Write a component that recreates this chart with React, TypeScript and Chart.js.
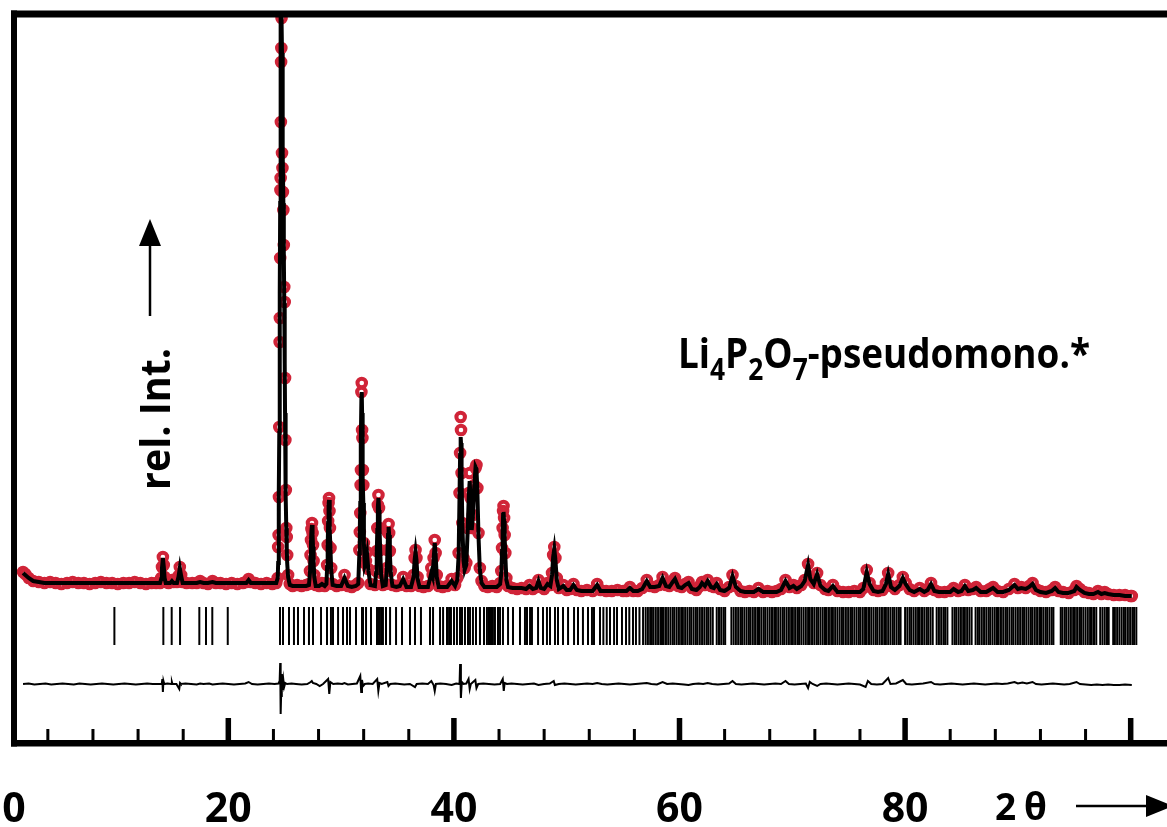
import React, { useEffect, useRef } from 'react';
import { Chart, registerables } from 'chart.js';

Chart.register(...registerables);

// ---------- data ----------
// 2θ positions of the observed / calculated profile
const twoTheta = [
  1.8, 2.0, 2.3, 2.7, 3.2, 3.7, 4.2, 4.7, 5.2, 5.7, 6.2, 6.7, 7.2, 7.7, 8.2, 8.7, 9.2, 9.7, 10.2, 10.7, 11.2, 11.7, 12.2, 12.7, 13.2, 13.6,
  13.95, 14.05, 14.12, 14.2, 14.28, 14.35, 14.45, 14.7, 14.85, 15.0, 15.15, 15.45, 15.58, 15.7, 15.82, 15.95,
  16.3, 16.8, 17.2, 17.5, 17.8, 18.2, 18.6, 18.9, 19.3, 19.8, 20.3, 20.8, 21.3, 21.6, 21.8, 22.0, 22.4, 22.9, 23.4, 23.9, 24.25,
  24.38, 24.42, 24.46, 24.49, 24.52, 24.55, 24.57, 24.6, 24.62, 24.64, 24.66, 24.68, 24.7, 24.72, 24.76, 24.8, 24.84, 24.88, 24.92, 24.96, 25.0, 25.03, 25.06, 25.1, 25.14, 25.18, 25.22, 25.3, 25.45,
  25.7, 26.1, 26.5, 26.9,
  27.15, 27.24, 27.29, 27.33, 27.37, 27.42, 27.47, 27.51, 27.56, 27.62, 27.75,
  28.05, 28.3, 28.55,
  28.7, 28.76, 28.81, 28.85, 28.89, 28.93, 28.97, 29.01, 29.06, 29.12, 29.25,
  29.6, 30.0, 30.3, 30.6, 30.95, 31.3,
  31.52, 31.62, 31.66, 31.7, 31.73, 31.76, 31.8, 31.83, 31.86, 31.89, 31.93, 31.97, 32.02, 32.1, 32.2, 32.3, 32.42, 32.6,
  33.0, 33.1, 33.16, 33.21, 33.26, 33.31, 33.36, 33.41, 33.47, 33.55, 33.7,
  33.95, 34.05, 34.11, 34.16, 34.21, 34.26, 34.32, 34.4, 34.55,
  34.9, 35.2, 35.5, 35.8, 36.2,
  36.42, 36.52, 36.6, 36.68, 36.78, 36.95,
  37.3, 37.7, 38.0, 38.12, 38.2, 38.3, 38.38, 38.48, 38.65, 39.0, 39.4, 39.8, 40.1, 40.3,
  40.42, 40.5, 40.55, 40.6, 40.63, 40.68, 40.75, 40.85, 40.95, 41.1, 41.22, 41.32, 41.4, 41.48, 41.58, 41.68, 41.8, 41.92, 42.0, 42.08, 42.18, 42.3, 42.45, 42.7,
  43.0, 43.4, 43.8, 44.1,
  44.2, 44.27, 44.32, 44.36, 44.4, 44.45, 44.5, 44.56, 44.65, 44.8,
  45.2, 45.6, 46.0, 46.4, 46.7, 47.0, 47.3, 47.5, 47.7, 48.0, 48.3, 48.55,
  48.7, 48.8, 48.9, 49.0, 49.12, 49.3,
  49.7, 50.0, 50.3, 50.6, 50.9, 51.3, 51.8, 52.3, 52.7, 53.0, 53.5, 54.0, 54.5, 55.0, 55.3, 55.6, 55.9, 56.3, 56.7,
  57.1, 57.4, 57.8, 58.2, 58.5, 58.8, 59.1, 59.4, 59.6, 59.9, 60.2, 60.5, 60.8, 61.1, 61.5, 61.8, 62.0, 62.25, 62.5, 62.8, 63.05, 63.3, 63.6, 64.0, 64.4, 64.7, 65.0,
  65.4, 65.8, 66.2, 66.6, 67.0, 67.4, 67.8, 68.2, 68.6, 69.0, 69.4, 69.75, 70.1, 70.4, 70.8, 71.1, 71.4, 71.6, 71.9, 72.2, 72.5, 72.9, 73.2, 73.6,
  74.0, 74.5, 75.0, 75.5, 76.0, 76.3, 76.6, 76.85, 77.2, 77.6, 78.0, 78.3, 78.5, 78.75, 79.1, 79.5, 79.8, 80.05, 80.4, 80.8, 81.3, 81.7,
  82.0, 82.3, 82.6, 83.0, 83.5, 84.0, 84.3, 84.7, 85.0, 85.3, 85.6, 86.0, 86.3, 86.7, 87.2, 87.5, 87.8, 88.2, 88.7, 89.2, 89.7,
  90.0, 90.3, 90.7, 91.0, 91.3, 91.6, 92.0, 92.5, 93.0, 93.3, 93.6, 94.0, 94.5, 95.0, 95.2, 95.5, 95.9, 96.3, 96.7, 97.1, 97.4, 97.7, 98.0, 98.5, 99.0, 99.5, 100.0, 100.1,
];

// observed intensities (relative units)
const obsI = [
  171, 169, 165, 162, 161, 160, 161, 160, 159, 160, 161, 160, 160, 159, 160, 161, 160, 160, 159, 160, 160, 161, 160, 159, 160, 160,
  160, 165, 176, 186, 178, 166, 161, 160, 161, 163, 161, 161, 167, 176, 168, 161,
  160, 160, 160, 162, 160, 159, 162, 160, 160, 159, 160, 159, 160, 161, 164, 161, 160, 159, 160, 159, 160,
  165, 196, 208, 246, 316, 401, 425, 485, 553, 565, 621, 681, 695, 725, 590, 575, 551, 533, 498, 456, 441, 365, 303, 253, 215, 206, 188, 168, 159,
  157, 158, 157, 158,
  159, 172, 188, 203, 214, 220, 210, 198, 182, 168, 158,
  157, 160, 157,
  160, 178, 198, 222, 240, 245, 232, 215, 195, 175, 159,
  157, 158, 168, 157, 156, 158,
  160, 193, 211, 230, 258, 273, 351, 360, 313, 305, 273, 258, 200, 180, 182, 191, 174, 159,
  158, 172, 192, 215, 238, 248, 235, 215, 193, 170, 158,
  159, 175, 193, 210, 219, 210, 192, 172, 158,
  157, 158, 166, 157, 157,
  168, 185, 193, 185, 166, 157,
  156, 157, 175, 168, 185, 203, 190, 168, 157, 156, 157, 164, 158, 165,
  190, 250, 290, 326, 313, 270, 220, 185, 175, 180, 215, 250, 270, 245, 215, 228, 258, 275, 278, 255, 210, 175, 162, 157,
  156, 157, 156, 160,
  172, 195, 215, 232, 237, 225, 208, 190, 165, 157,
  155, 154, 155, 154, 158, 154, 156, 163, 156, 154, 160, 158,
  170, 188, 196, 185, 165, 155,
  158, 153, 154, 159, 153, 152, 153, 152, 159, 153, 152, 152, 153, 152, 152, 156, 152, 152, 155,
  163, 157, 156, 158, 166, 158, 157, 162, 165, 157, 156, 159, 161, 155, 153, 157, 161, 158, 163, 157, 156, 160, 154, 152, 156, 168, 157,
  152, 151, 152, 151, 155, 151, 152, 151, 152, 154, 163, 156, 158, 155, 158, 163, 179, 165, 160, 170, 158, 154, 153, 158,
  152, 151, 151, 152, 151, 155, 173, 160, 153, 152, 153, 160, 170, 157, 154, 158, 166, 160, 154, 152, 155, 152,
  154, 160, 153, 151, 151, 152, 155, 152, 153, 158, 153, 154, 156, 152, 152, 154, 156, 152, 151, 154, 159,
  155, 156, 155, 157, 160, 154, 152, 151, 153, 156, 152, 151, 150, 153, 157, 154, 151, 150, 149, 152, 149, 151, 149, 148, 148, 148, 147, 147,
];

// calculated profile
const calcI = [
  170, 168, 165, 162, 161, 160, 160, 160, 160, 160, 160, 160, 160, 160, 160, 160, 160, 160, 160, 160, 160, 160, 160, 160, 160, 160,
  160, 164, 175, 185, 176, 165, 160, 160, 160, 162, 160, 160, 166, 175, 167, 160,
  160, 160, 160, 161, 160, 160, 161, 160, 160, 160, 160, 160, 160, 160, 163, 160, 160, 160, 160, 160, 160,
  165, 180, 210, 250, 310, 390, 450, 540, 610, 680, 730, 750, 745, 730, 690, 640, 590, 540, 490, 440, 380, 330, 290, 250, 215, 195, 180, 166, 158,
  157, 157, 157, 157,
  158, 170, 186, 201, 212, 218, 208, 196, 180, 166, 157,
  157, 159, 157,
  159, 176, 196, 220, 238, 243, 230, 213, 193, 173, 158,
  157, 157, 165, 157, 156, 157,
  159, 190, 215, 240, 270, 300, 345, 351, 330, 300, 265, 240, 200, 178, 182, 189, 172, 158,
  157, 170, 190, 213, 236, 245, 233, 213, 191, 168, 157,
  158, 173, 191, 208, 216, 208, 190, 170, 157,
  156, 157, 164, 156, 156,
  166, 183, 191, 183, 164, 156,
  156, 156, 170, 166, 183, 200, 188, 166, 156, 156, 156, 162, 157, 163,
  188, 248, 288, 306, 300, 265, 218, 183, 173, 178, 212, 247, 262, 243, 213, 226, 256, 276, 274, 252, 207, 173, 160, 156,
  156, 156, 156, 159,
  170, 192, 212, 228, 231, 222, 205, 187, 163, 156,
  155, 155, 155, 154, 157, 154, 155, 162, 155, 154, 159, 157,
  168, 186, 194, 183, 163, 154,
  157, 153, 153, 158, 153, 152, 152, 152, 158, 152, 152, 152, 152, 152, 152, 155, 152, 152, 154,
  162, 156, 156, 157, 165, 157, 156, 161, 164, 156, 155, 158, 160, 154, 153, 156, 160, 157, 162, 156, 155, 159, 153, 152, 155, 167, 156,
  152, 151, 151, 151, 154, 151, 151, 151, 151, 153, 162, 155, 157, 154, 157, 162, 178, 164, 159, 169, 157, 153, 152, 157,
  151, 151, 151, 151, 151, 154, 171, 159, 152, 151, 152, 159, 169, 156, 153, 157, 165, 159, 153, 151, 154, 151,
  153, 159, 152, 151, 151, 151, 154, 151, 152, 157, 152, 153, 155, 151, 151, 153, 155, 151, 151, 153, 158,
  154, 155, 154, 156, 159, 153, 151, 150, 152, 155, 151, 150, 150, 152, 156, 153, 150, 149, 149, 151, 149, 150, 149, 148, 148, 147, 147, 147,
];

// difference curve (obs - calc)
const diffTheta = [
  1.8, 2.3, 2.8, 3.3, 3.8, 4.3, 4.8, 5.3, 5.8, 6.3, 6.8, 7.3, 7.8, 8.3, 8.8, 9.3, 9.8, 10.3, 10.8, 11.3, 11.8, 12.3, 12.8, 13.3, 13.8,
  14.1, 14.15, 14.2, 14.25, 14.32, 14.6, 14.95, 15.0, 15.05, 15.4, 15.65, 15.72, 15.8,
  16.2, 16.7, 17.2, 17.5, 17.8, 18.3, 18.6, 19.0, 19.5, 20.0, 20.5, 21.0, 21.5, 21.8, 22.1, 22.6, 23.1, 23.6, 24.1, 24.45,
  24.55, 24.6, 24.64, 24.68, 24.74, 24.8, 24.88, 24.95, 25.05, 25.2,
  25.6, 26.0, 26.5, 27.0, 27.3, 27.4, 27.5, 27.8, 28.1, 28.4, 28.85, 28.95, 29.05, 29.3, 29.7, 30.1, 30.3, 30.6, 31.0, 31.4,
  31.7, 31.78, 31.85, 31.95, 32.1, 32.4, 32.8, 33.2, 33.3, 33.4, 33.6, 34.1, 34.2, 34.35, 34.8, 35.2, 35.6, 36.1, 36.55, 36.7,
  37.2, 37.7, 38.0, 38.2, 38.3, 38.4, 38.8, 39.3, 39.8, 40.2, 40.5, 40.55, 40.62, 40.7, 40.85, 41.1, 41.3, 41.4, 41.5, 41.9, 42.0, 42.15, 42.6, 43.1, 43.6, 44.1, 44.33, 44.42, 44.5, 44.7,
  45.1, 45.6, 46.1, 46.6, 47.1, 47.5, 48.0, 48.5, 48.85, 48.95, 49.3, 49.8, 50.3, 50.8, 51.3, 51.8, 52.3, 52.7, 53.1, 53.6, 54.1, 54.6, 55.1, 55.6, 56.1, 56.6,
  57.1, 57.5, 58.0, 58.5, 58.9, 59.4, 59.9, 60.4, 60.8, 61.2, 61.7, 62.1, 62.5, 62.9, 63.4, 63.9, 64.4, 64.7, 65.0, 65.5, 66.0, 66.5, 67.0, 67.5, 68.0, 68.5, 69.0, 69.4, 69.7,
  70.2, 70.7, 71.2, 71.4, 71.55, 71.8, 72.2, 72.5, 73.0, 73.5, 74.0, 74.5, 75.0, 75.5, 76.0, 76.5, 76.7, 77.0, 77.5, 78.0, 78.5, 78.7, 79.2, 79.8, 80.1, 80.6, 81.1, 81.6,
  82.3, 82.6, 83.1, 83.6, 84.1, 84.6, 85.1, 85.6, 86.1, 86.6, 87.1, 87.6, 88.1, 88.6, 89.1, 89.7,
  90.0, 90.4, 90.8, 91.3, 91.6, 92.1, 92.6, 93.1, 93.6, 94.1, 94.6, 95.2, 95.5, 96.0, 96.5, 97.0, 97.5, 98.0, 98.5, 99.0, 99.5, 100.1,
];
const diffI = [
  0, 0.5, -0.5, 0, 0.5, -0.5, 0, 0.5, 0, -0.5, 0.5, 0, -0.5, 0, 0.5, 0, -0.5, 0, 0.5, 0, -0.5, 0, 0.5, 0, 0,
  0, 5, -8, 3, 0, 0.5, 0, 2, 0, 0, -5, 1, 0,
  0.5, 0, -0.5, 0.5, 0, 0.5, -0.5, 0, 0.5, 0, -0.5, 0, 0.5, 2, 0, -0.5, 0, 0.5, 0, 0.5,
  3, 21, -30, -12, 10, -6, 4, -3, 1, 0,
  0.5, 0, -0.5, 0, 2, 3, 1, 0, -2, 0, 5, -10, 2, 0, 0.5, 0, 1, -0.5, 0, 0.5,
  8, -8, 4, -2, 0, 0.5, 0, 5, -7, 1, 0, 2, -2, 0, 0.5, 0, -0.5, 0, -3, 0,
  0.5, 0, 3, -1, -7, 0, 0.5, 0, -1, 0.5, 0, 20, -14, 2, 0, 0.5, 5, -5, 0, 4, -4, 0, 0.5, 0, -0.5, 0, 5, -7, 1, 0,
  0.5, 0, -0.5, 0, 0.5, -1, 0, 0.5, 3, -1, 0, 0.5, 0, -0.5, 0, 0.5, 0, 1, 0, -0.5, 0, 0.5, 0, -0.5, 0, 0.5,
  1, 0, -0.5, 2, 0, 0.5, 0, -0.5, -1, 0, 0.5, 0, 1, 0, -0.5, 0, 0.5, 3, 0, -0.5, 0, 0.5, 0, -0.5, 0, 0.5, 0, 3, 0,
  -0.5, 0, 0.5, -4, 2, 0, -2, 0, 0.5, 0, -0.5, 0, 0.5, 0, -0.5, -3, 3, 0, -0.5, 0, 6, 0, 0.5, 4, 0, -0.5, 0, 0.5,
  2, 0, -0.5, 0, 0.5, 0, -0.5, 0, 0.5, 0, -0.5, 0, 0.5, 0, 0.5, 2,
  0.5, 1.5, 0.5, 2, 0, -0.5, 0, 0.5, 0, -0.5, 0, 2, 0, -0.5, -1, -0.5, -1, -0.5, -1, -1, -0.5, -1,
];

// Bragg reflection positions (2θ)
const reflections = [
  9.9, 14.24, 14.98, 15.72, 17.43, 18.02, 18.58, 19.95,
  24.58, 24.85, 25.38, 25.82, 26.18, 26.71, 27.15, 27.51, 28.22, 28.75, 29.1, 29.28, 29.73, 30.17, 30.52, 30.79,
  31.32, 31.85, 31.94, 32.21, 32.65, 33.18, 33.36, 33.54, 33.71, 33.98, 34.34, 34.87, 35.4, 36.11, 36.55, 37.08,
  37.88, 38.15, 38.77, 39.04, 39.39, 39.57, 39.74, 40.01, 40.27, 40.54, 40.72, 40.98, 41.25, 41.43, 41.69, 41.96,
  42.31, 42.67, 42.93, 43.11, 43.29, 43.46, 43.64, 43.91, 44.09, 44.35, 44.8, 45.24, 45.86, 46.3, 46.48, 46.75,
  46.92, 47.46, 47.9, 48.25, 48.52, 48.96, 49.23, 49.67, 50.12, 50.65, 51.0, 51.44, 51.89, 52.24, 52.42, 52.95,
  53.25, 53.55, 53.84, 54.2, 54.46, 54.9, 55.26, 55.55, 55.88, 56.14, 56.45, 56.77,
  57.0, 57.2, 57.4, 57.55, 57.7, 57.9, 58.1, 58.3, 58.45, 58.6, 58.8, 59.0, 59.2, 59.4, 59.55, 59.75, 59.95, 60.15,
  60.3, 60.5, 60.7, 60.9, 61.05, 61.25, 61.45, 61.6, 61.8, 62.0, 62.2, 62.4, 62.55, 62.75, 62.95, 63.3, 63.5, 63.7,
  63.9, 64.05, 64.6, 64.8, 65.0, 65.2, 65.4, 65.55, 65.75, 65.95, 66.15, 66.3, 66.5, 66.7, 66.9, 67.05, 67.25, 67.45,
  67.6, 67.8, 68.0, 68.2, 68.4, 68.55, 68.75, 68.95, 69.15, 69.3, 69.5, 69.7, 69.9, 70.05, 70.25, 70.45, 70.6, 70.8,
  71.0, 71.2, 71.4, 71.55, 71.75, 71.95, 72.15, 72.3, 72.5, 72.7, 72.9, 73.05, 73.25, 73.45, 73.6, 73.8, 74.0, 74.2,
  74.4, 74.55, 74.75, 74.95, 75.15, 75.3, 75.5, 75.7, 75.9, 76.05, 76.25, 76.45, 76.6, 76.8, 77.0, 77.2, 77.4, 77.55,
  77.75, 77.95, 78.15, 78.3, 78.5, 78.7, 78.9, 79.05, 79.25, 79.45, 79.6, 80.0, 80.2, 80.4, 80.55, 80.75, 80.95, 81.15,
  81.3, 81.5, 81.7, 81.9, 82.05, 82.25, 82.45, 82.8, 83.0, 83.2, 83.4, 83.55, 83.75, 84.2, 84.4, 84.55, 84.75, 84.95,
  85.15, 85.3, 85.5, 85.7, 85.9, 86.25, 86.45, 86.6, 86.8, 87.0, 87.2, 87.4, 87.55, 87.75, 87.95, 88.15, 88.3, 88.5,
  88.7, 88.9, 89.05, 89.25, 89.45, 89.6, 89.8, 90.0, 90.2, 90.4, 90.55, 90.75, 90.95, 91.15, 91.3, 91.5, 91.7, 91.9,
  92.05, 92.25, 92.45, 92.6, 92.8, 93.0, 93.15, 93.8, 93.95, 94.15, 94.3, 94.5, 94.7, 94.9, 95.05, 95.25, 95.45, 95.6,
  95.8, 96.0, 96.2, 96.4, 96.55, 96.75, 96.95, 97.3, 97.5, 97.7, 97.9, 98.05, 98.45, 98.6, 98.8, 99.0, 99.2, 99.4,
  99.55, 99.75, 99.95, 100.15, 100.3, 100.5,
];

const xMajorTicks = [20, 40, 60, 80, 100];
const xMinorTicks = [4, 8, 12, 16, 24, 28, 32, 36, 44, 48, 52, 56, 64, 68, 72, 76, 84, 88, 92, 96];
const xTickLabelValues = [0, 20, 40, 60, 80];
const xTickLabels = ['0', '20', '40', '60', '80'];
const xAxisTitle = ['2', 'θ'];
const yAxisTitle = 'rel. Int.';
// phase name pieces: [text, isSubscript]
const phaseName: [string, boolean][] = [
  ['Li', false], ['4', true], ['P', false], ['2', true], ['O', false], ['7', true], ['-pseudomono.*', false],
];

// ---------- styling constants ----------
const RED = 'rgb(208, 36, 56)';
const FONT = '"Open Sans", "DejaVu Sans", sans-serif';
const REFL_LEVEL = 117; // vertical level of the reflection markers (y-scale units)
const DIFF_LEVEL = 59; // zero line of the difference curve (y-scale units)

const overlay = {
  id: 'overlay',
  afterDraw(chart: any) {
    const { ctx, chartArea: a, scales } = chart;
    const xs = scales.x;
    ctx.save();
    ctx.fillStyle = '#000';
    ctx.strokeStyle = '#000';
    // frame (top, left, bottom)
    ctx.fillRect(a.left - 3, a.top - 3.5, a.right - a.left + 3, 7);
    ctx.fillRect(a.left - 3, a.top - 3.5, 6, a.bottom - a.top + 7);
    ctx.fillRect(a.left - 3, a.bottom - 3, a.right - a.left + 3, 6.5);
    // inward ticks
    for (const v of xMinorTicks) {
      const p = xs.getPixelForValue(v);
      ctx.fillRect(p - 1.5, a.bottom - 14, 3, 14);
    }
    for (const v of xMajorTicks) {
      const p = xs.getPixelForValue(v);
      ctx.fillRect(p - 2.75, a.bottom - 25, 5.5, 25);
    }
    // tick labels
    ctx.font = `bold 41px ${FONT}`;
    ctx.textAlign = 'center';
    ctx.textBaseline = 'alphabetic';
    xTickLabelValues.forEach((v, i) => {
      const p = Math.max(xs.getPixelForValue(v), a.left);
      ctx.fillText(xTickLabels[i], p, 822);
    });
    // x axis title "2 θ" + arrow
    ctx.textAlign = 'left';
    ctx.font = `bold 37px ${FONT}`;
    ctx.fillText(xAxisTitle[0], 995, 820);
    ctx.fillText(xAxisTitle[1], 1024, 820);
    ctx.lineWidth = 2.5;
    ctx.beginPath();
    ctx.moveTo(1076, 806);
    ctx.lineTo(1150, 806);
    ctx.stroke();
    ctx.beginPath();
    ctx.moveTo(1146, 795);
    ctx.lineTo(1173, 806);
    ctx.lineTo(1146, 817);
    ctx.closePath();
    ctx.fill();
    // y axis title (rotated) + arrow
    ctx.save();
    ctx.font = `bold 42px ${FONT}`;
    const yw = ctx.measureText(yAxisTitle).width;
    ctx.translate(170, 490);
    ctx.rotate(-Math.PI / 2);
    ctx.scale(142 / yw, 1);
    ctx.fillText(yAxisTitle, 0, 0);
    ctx.restore();
    ctx.beginPath();
    ctx.moveTo(150, 316);
    ctx.lineTo(150, 242);
    ctx.stroke();
    ctx.beginPath();
    ctx.moveTo(139, 246);
    ctx.lineTo(150, 219);
    ctx.lineTo(161, 246);
    ctx.closePath();
    ctx.fill();
    // phase name with subscripts
    const big = `bold 42px ${FONT}`;
    const small = `bold 30px ${FONT}`;
    const widths = phaseName.map(([t, sub]) => {
      ctx.font = sub ? small : big;
      return ctx.measureText(t).width;
    });
    const total = widths.reduce((s, w) => s + w, 0);
    ctx.save();
    ctx.translate(678, 368);
    ctx.scale(412 / total, 1);
    let cx = 0;
    phaseName.forEach(([t, sub], i) => {
      ctx.font = sub ? small : big;
      ctx.fillText(t, cx, sub ? 12 : 0);
      cx += widths[i];
    });
    ctx.restore();
    ctx.restore();
  },
};

export default function App() {
  const ref = useRef<HTMLCanvasElement | null>(null);
  useEffect(() => {
    document.body.style.margin = '0';
    document.body.style.overflow = 'hidden';
    const canvas = ref.current;
    if (!canvas) return;
    const calcPts = twoTheta.map((x, i) => ({ x, y: calcI[i] }));
    const obsPts = twoTheta.map((x, i) => ({ x, y: obsI[i] }));
    const reflPts = reflections.map((x) => ({ x, y: REFL_LEVEL }));
    const diffPts = diffTheta.map((x, i) => ({ x, y: DIFF_LEVEL + diffI[i] }));
    const chart = new Chart(canvas, {
      type: 'scatter',
      data: {
        datasets: [
          {
            label: 'calc',
            data: calcPts,
            showLine: true,
            borderColor: '#000',
            borderWidth: 4,
            pointRadius: 0,
            tension: 0,
          },
          {
            label: 'obs',
            data: obsPts,
            showLine: false,
            pointRadius: 4.3,
            pointBorderWidth: 4,
            pointBorderColor: RED,
            pointBackgroundColor: 'rgba(255,255,255,0)',
          },
          {
            label: 'reflections',
            data: reflPts,
            showLine: false,
            pointStyle: 'line',
            pointRotation: 90,
            pointRadius: 19,
            pointBorderWidth: 2,
            pointBorderColor: '#000',
          },
          {
            label: 'difference',
            data: diffPts,
            showLine: true,
            borderColor: '#000',
            borderWidth: 2,
            pointRadius: 0,
            tension: 0,
          },
        ],
      } as any,
      options: {
        animation: false,
        responsive: false,
        devicePixelRatio: 1,
        events: [],
        layout: { autoPadding: false, padding: { left: 14, top: 14, right: 0, bottom: 84 } },
        scales: {
          x: { type: 'linear', display: false, min: 1.0, max: 103.22 },
          y: { type: 'linear', display: false, min: 0, max: 729 },
        },
        plugins: { legend: { display: false }, tooltip: { enabled: false } },
      } as any,
      plugins: [overlay],
    });
    return () => chart.destroy();
  }, []);
  return <canvas ref={ref} width={1167} height={827} style={{ display: 'block' }} />;
}
